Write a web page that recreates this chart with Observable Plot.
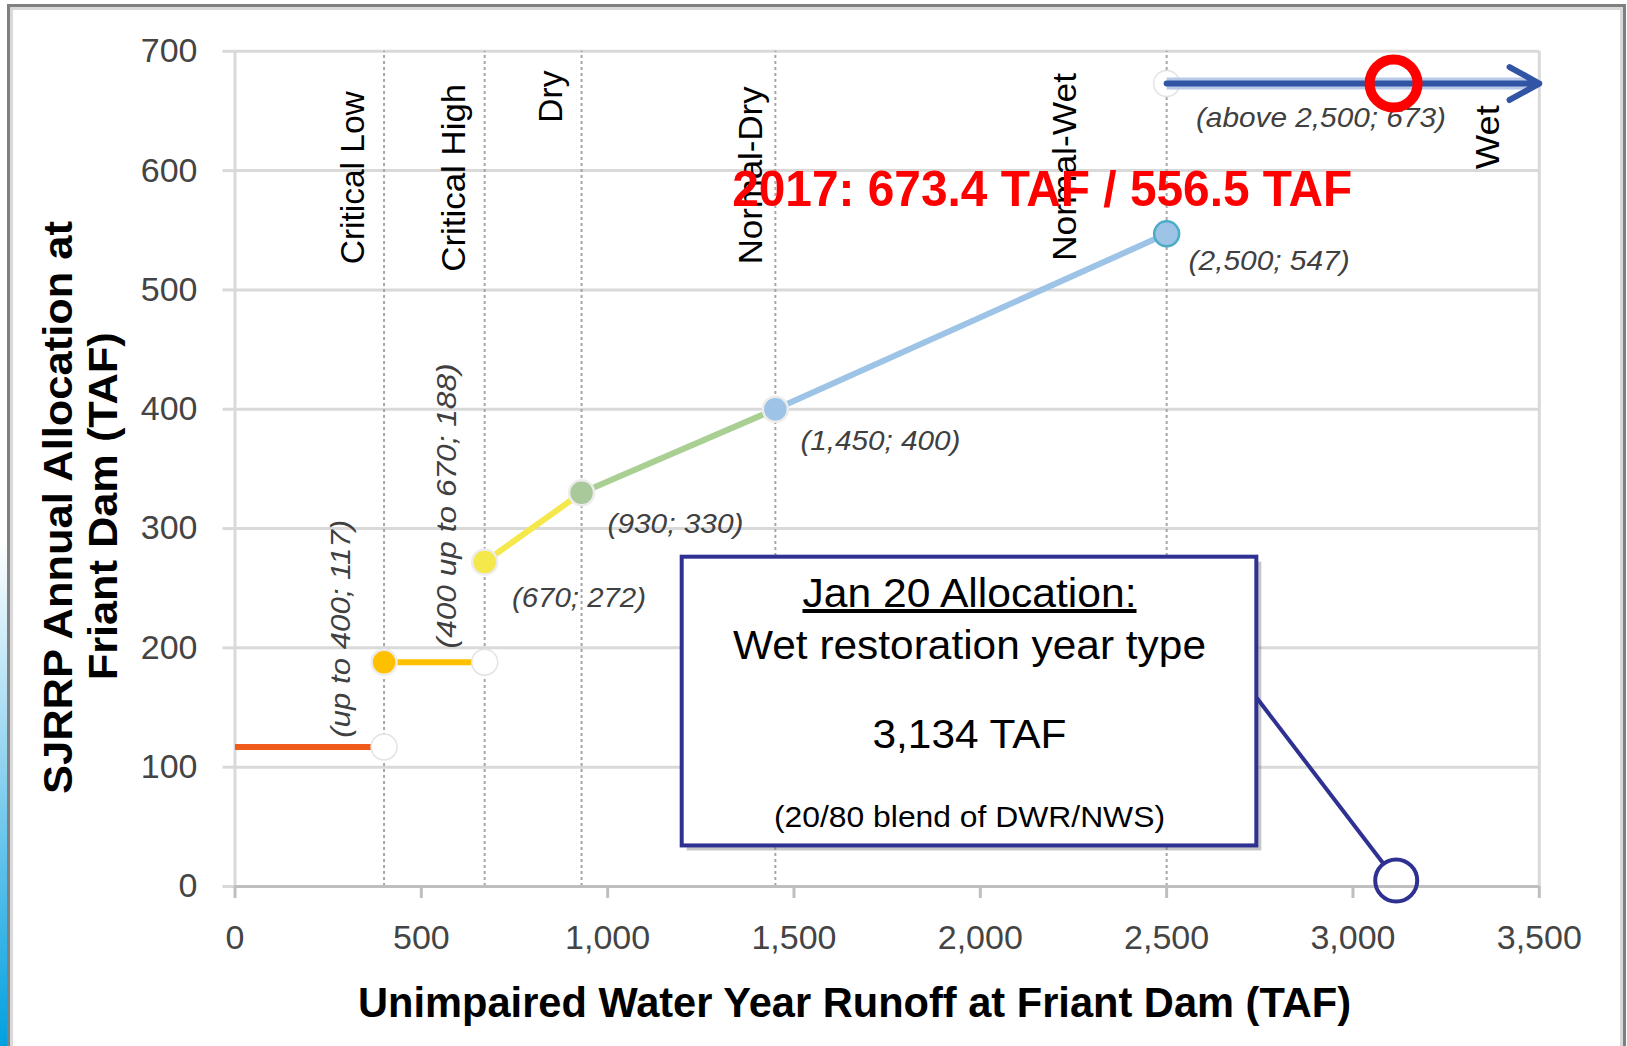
<!DOCTYPE html>
<html><head><meta charset="utf-8">
<script src="https://cdn.jsdelivr.net/npm/d3@7"></script>
<script src="https://cdn.jsdelivr.net/npm/@observablehq/plot@0.6"></script>
<style>
html,body{margin:0;padding:0;background:#fff;}
#wrap{position:relative;width:1627px;height:1046px;overflow:hidden;background:#fff;}
#outer{position:absolute;left:7px;top:4px;width:1619px;height:1100px;border:3px solid #808080;box-sizing:border-box;}
#inner{position:absolute;left:0;top:0;right:0;bottom:0;border:3px solid #d9d9d9;}
#bar{position:absolute;left:0;top:540px;width:7px;height:506px;background:linear-gradient(#ffffff,#8fd3f0 45%,#00a0e0);}
#chart{position:absolute;left:0;top:0;}
</style></head><body>
<div id="wrap"><div id="outer"><div id="inner"></div></div><div id="bar"></div><div id="chart"></div></div>
<script>
// ---- data ----
const xTicks = [0, 500, 1000, 1500, 2000, 2500, 3000, 3500];
const yTicks = [0, 100, 200, 300, 400, 500, 600, 700];
const boundaryX = [400, 670, 930, 1450, 2500];

const segX1 = [0, 400, 670, 930, 1450];
const segY1 = [117, 188, 272, 330, 400];
const segX2 = [400, 670, 930, 1450, 2500];
const segY2 = [117, 188, 330, 400, 547];

const filledX = [400, 670, 930, 1450, 2500];
const filledY = [188, 272, 330, 400, 547];

const hollowX = [400, 670, 2500];
const hollowY = [117, 188, 673];

const wetX1 = 2500, wetX2 = 3500, wetY = 673;

const yearTypes = ["Critical Low", "Critical High", "Dry", "Normal-Dry", "Normal-Wet", "Wet"];
const yearTypeX = [318, 588, 849, 1385, 2229, 3364];
const yearTypeY = [594, 594, 662, 596, 603, 628];

const pointLabels = ["(up to 400; 117)", "(400 up to 670; 188)", "(670; 272)", "(930; 330)", "(1,450; 400)", "(2,500; 547)", "(above 2,500; 673)"];
const pointLabelX = [284, 568, 923, 1182, 1732, 2775, 2914];
const pointLabelY = [216, 319, 242, 304, 373, 524, 644];
const pointLabelRotate = [-90, -90, 0, 0, 0, 0, 0];

const highlightText = "2017: 673.4 TAF / 556.5 TAF";
const highlightX = 2166, highlightY = 584;
const redCircleX = 3109, redCircleY = 673;

const boxX1 = 1200, boxX2 = 2742, boxY1 = 34, boxY2 = 276;
const boxLines = ["Jan 20 Allocation:", "Wet restoration year type", "3,134 TAF", "(20/80 blend of DWR/NWS)"];
const boxLineY = [245, 202, 127, 58];
const boxCenterX = 1971;
const pointerX1 = 2742, pointerY1 = 158, pointerX2 = 3082, pointerY2 = 19;
const forecastX = 3116, forecastY = 5;

const xTitle = "Unimpaired Water Year Runoff at Friant Dam (TAF)";
const yTitle1 = "SJRRP Annual Allocation at";
const yTitle2 = "Friant Dam (TAF)";

// ---- styles ----
const segColors = ["#f05a1a", "#ffc000", "#f5e84a", "#a9cf93", "#9dc3e6"];
const filledColors = ["#ffc000", "#f5e84a", "#a9c99b", "#9dc3e6", "#9dc3e6"];
const filledStrokes = ["#ececec", "#ececec", "#ececec", "#ececec", "#4bacc6"];
const boxFontSizes = [40, 41, 41, 30];
const textWidths = {
  [highlightText]: 620, [xTitle]: 993, [yTitle1]: 573, [yTitle2]: 348,
  "Jan 20 Allocation:": 334, "Wet restoration year type": 473, "3,134 TAF": 194, "(20/80 blend of DWR/NWS)": 391,
  "(670; 272)": 134, "(930; 330)": 136, "(1,450; 400)": 160, "(2,500; 547)": 161, "(above 2,500; 673)": 250,
  "(up to 400; 117)": 218, "(400 up to 670; 188)": 285,
  "Critical Low": 173, "Critical High": 188, "Dry": 52, "Normal-Dry": 178, "Normal-Wet": 188, "Wet": 64
};

const segs = segX1.map((x1, i) => ({x1, y1: segY1[i], x2: segX2[i], y2: segY2[i], c: segColors[i]}));
const filled = filledX.map((x, i) => ({x, y: filledY[i], c: filledColors[i], s: filledStrokes[i]}));
const hollow = hollowX.map((x, i) => ({x, y: hollowY[i]}));
const years = yearTypes.map((t, i) => ({t, x: yearTypeX[i], y: yearTypeY[i]}));
const plabels = pointLabels.map((t, i) => ({t, x: pointLabelX[i], y: pointLabelY[i], r: pointLabelRotate[i]}));
const wet = [{x1: wetX1, x2: wetX2, y: wetY}];
const box = [{x1: boxX1, x2: boxX2, y1: boxY1, y2: boxY2}];
const blines = boxLines.map((t, i) => ({t, x: boxCenterX, y: boxLineY[i], f: boxFontSizes[i]}));

const plot = Plot.plot({
  width: 1627, height: 1046,
  marginTop: 50.8, marginRight: 88.2, marginBottom: 160, marginLeft: 234.5,
  style: {fontFamily: "'Liberation Sans', Arial, Helvetica, sans-serif", background: "transparent", overflow: "visible"},
  x: {domain: [0, 3500]},
  y: {domain: [0, 700]},
  color: {type: "identity"},
  marks: [
    Plot.gridY(yTicks, {stroke: "#d9d9d9", strokeOpacity: 1, strokeWidth: 3}),
    Plot.axisY(yTicks, {tickSize: 12, tickPadding: 25.5, stroke: "#d9d9d9", strokeWidth: 3, fontSize: 34, fill: "#444444", label: null}),
    Plot.ruleX([0, 3500], {stroke: "#d9d9d9", strokeWidth: 3}),
    Plot.ruleX(boundaryX, {y1: 0, y2: 700, stroke: "#a6a6a6", strokeWidth: 2, strokeDasharray: "3,3"}),
    Plot.ruleY([0], {stroke: "#bfbfbf", strokeWidth: 3}),
    Plot.axisX(xTicks, {tickSize: 12, tickPadding: 26, stroke: "#bfbfbf", strokeWidth: 3, fontSize: 34, fill: "#444444", tickFormat: d3.format(","), label: null}),
    // year type labels
    Plot.text(years, {x: "x", y: "y", text: "t", rotate: -90, fontSize: 33, fill: "#000", textAnchor: "middle", lineAnchor: "middle"}),
    // point labels
    Plot.text(plabels, {x: "x", y: "y", text: "t", rotate: "r", fontSize: 28, fontStyle: "italic", fill: "#404040", textAnchor: "middle", lineAnchor: "middle"}),
    // segments
    Plot.link(segs, {x1: "x1", y1: "y1", x2: "x2", y2: "y2", stroke: "c", strokeWidth: 6}),
    Plot.dot(hollow, {x: "x", y: "y", r: 13, fill: "white", stroke: "#e3e3e3", strokeWidth: 1.5}),
    Plot.dot(filled, {x: "x", y: "y", r: 12.5, fill: "c", stroke: "s", strokeWidth: 2.5}),
    // wet arrow
    Plot.link(wet, {x1: "x1", x2: d => d.x2 - 15, y1: "y", y2: "y", stroke: "#b8cae8", strokeWidth: 12}),
    Plot.arrow(wet, {x1: "x1", x2: "x2", y1: "y", y2: "y", stroke: "#3155a4", strokeWidth: 6, headLength: 8.5, headAngle: 58}),
    // highlight text
    Plot.text([highlightText], {x: () => highlightX, y: () => highlightY, text: d => d, fontSize: 50, fontWeight: "bold", fill: "#ff0000", textAnchor: "middle", lineAnchor: "middle"}),
    Plot.dot([0], {x: () => redCircleX, y: () => redCircleY, r: 24, fill: "none", stroke: "#ff0000", strokeWidth: 10}),
    // callout
    Plot.rect(box, {x1: "x1", x2: "x2", y1: "y1", y2: "y2", fill: "#808080", fillOpacity: 0.45, dx: 5, dy: 5}),
    Plot.rect(box, {x1: "x1", x2: "x2", y1: "y1", y2: "y2", fill: "white", stroke: "#2e3192", strokeWidth: 4}),
    Plot.text(blines, {x: "x", y: "y", text: "t", fontSize: "f", fill: "#000", textAnchor: "middle", lineAnchor: "middle"}),
    Plot.link([0], {x1: () => pointerX1, y1: () => pointerY1, x2: () => pointerX2, y2: () => pointerY2, stroke: "#2e3192", strokeWidth: 4}),
    Plot.dot([0], {x: () => forecastX, y: () => forecastY, r: 21, fill: "none", stroke: "#2e3192", strokeWidth: 4}),
    // axis titles
    Plot.text([xTitle], {frameAnchor: "bottom", dx: -32.6, dy: 117, text: d => d, fontSize: 42, fontWeight: "bold", fill: "#000", textAnchor: "middle", lineAnchor: "middle"}),
    Plot.text([yTitle1], {frameAnchor: "left", dx: -175.5, dy: 38.6, rotate: -90, text: d => d, fontSize: 40, fontWeight: "bold", fill: "#000", textAnchor: "middle", lineAnchor: "middle"}),
    Plot.text([yTitle2], {frameAnchor: "left", dx: -130.7, dy: 37.4, rotate: -90, text: d => d, fontSize: 40, fontWeight: "bold", fill: "#000", textAnchor: "middle", lineAnchor: "middle"})
  ]
});

plot.querySelectorAll("text").forEach(el => {
  const t = el.textContent;
  if (textWidths[t] !== undefined) {
    el.setAttribute("textLength", textWidths[t]);
    el.setAttribute("lengthAdjust", "spacingAndGlyphs");
  }
  if (t === "Jan 20 Allocation:") el.style.textDecoration = "underline";
});

document.getElementById("chart").appendChild(plot);
</script></body></html>
